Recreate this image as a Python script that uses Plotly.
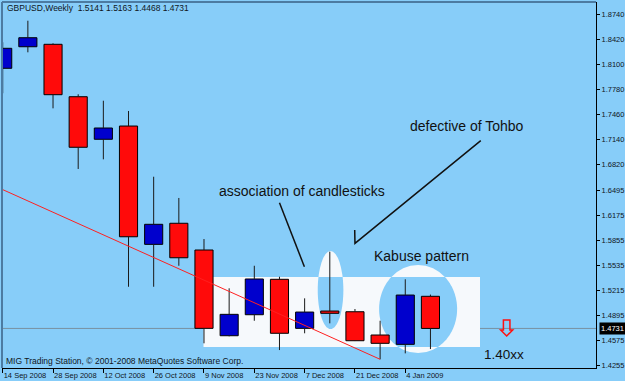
import numpy as np
import pandas as pd
import plotly.graph_objects as go

# ---------------- data ----------------
dates = ["2008-09-14", "2008-09-21", "2008-09-28", "2008-10-05", "2008-10-12", "2008-10-19",
         "2008-10-26", "2008-11-02", "2008-11-09", "2008-11-16", "2008-11-23", "2008-11-30",
         "2008-12-07", "2008-12-14", "2008-12-21", "2008-12-28", "2009-01-04", "2009-01-11"]
opens = [1.8051, 1.8326, 1.8357, 1.7688, 1.7145, 1.7314, 1.5804, 1.6073, 1.5732, 1.4638,
         1.4906, 1.5358, 1.4732, 1.4953, 1.4944, 1.4647, 1.4528, 1.5141]
highs = [1.8383, 1.8658, 1.8370, 1.7719, 1.7637, 1.7506, 1.6667, 1.6396, 1.5872, 1.5243,
         1.5531, 1.5391, 1.5115, 1.5710, 1.4979, 1.4829, 1.5358, 1.5163]
lows = [1.7732, 1.8255, 1.7540, 1.6766, 1.6889, 1.5263, 1.5263, 1.5531, 1.4541, 1.4630,
        1.4829, 1.4455, 1.4669, 1.4796, 1.4570, 1.4337, 1.4413, 1.4468]
closes = [1.8306, 1.8441, 1.7714, 1.7043, 1.7289, 1.5901, 1.6060, 1.5633, 1.4732, 1.4911,
          1.5362, 1.4669, 1.4940, 1.4924, 1.4574, 1.4541, 1.5157, 1.4731]
price_ticks = [1.8740, 1.8420, 1.8100, 1.7780, 1.7460, 1.7140, 1.6820, 1.6495, 1.6175,
               1.5855, 1.5535, 1.5215, 1.4895, 1.4575, 1.4255]
current_price = 1.4731
header_text = "GBPUSD,Weekly  1.5141 1.5163 1.4468 1.4731"
copyright_text = "MIG Trading Station, \u00a9 2001-2008 MetaQuotes Software Corp."

# ---------------- derived ----------------
xpos = list(range(len(dates)))
dts = pd.to_datetime(dates)
tick_idx = xpos[::2]
tick_text = [f"{dts[i].day} {dts[i].strftime('%b %Y')}" for i in tick_idx]

BG = "#87CDF9"
WHITE = "#F6F9FC"
UP = "#0000CD"
DOWN = "#FF0A0A"
FONT = "Liberation Sans, Arial, sans-serif"
SMALL = dict(family=FONT, size=7.5, color="#10161c")
TXT = dict(family=FONT, size=8.5, color="#10161c")
BIG = dict(family=FONT, size=14, color="#111111")

body_base = [min(o, c) for o, c in zip(opens, closes)]
body_len = [abs(c - o) for o, c in zip(opens, closes)]
body_col = [UP if c > o else DOWN for o, c in zip(opens, closes)]

wx, wy = [], []
for i, (o, h, l, c) in enumerate(zip(opens, highs, lows, closes)):
    top, bot = max(o, c), min(o, c)
    wx += [i, i, None, i, i, None]
    wy += [h, top, None, bot, l, None]

fig = go.Figure()
fig.add_trace(go.Bar(x=xpos, y=body_len, base=body_base, width=0.72,
                     marker=dict(color=body_col, line=dict(color="#000000", width=1)),
                     hoverinfo="skip", showlegend=False))
fig.add_trace(go.Scatter(x=wx, y=wy, mode="lines", line=dict(color="#1a1a1a", width=1),
                         hoverinfo="skip", showlegend=False, connectgaps=False))


def ellipse_pts(cx, cy, rx, ry, n=200):
    t = np.linspace(0, 2 * np.pi, n, endpoint=False)
    return list(zip(cx + rx * np.cos(t), cy + ry * np.sin(t)))


def clip(poly, inside, inter):
    out = []
    for k in range(len(poly)):
        cur, prev = poly[k], poly[k - 1]
        if inside(cur):
            if not inside(prev):
                out.append(inter(prev, cur))
            out.append(cur)
        elif inside(prev):
            out.append(inter(prev, cur))
    return out


def clip_rect(poly, x0, x1, y0, y1):
    def ix(xc):
        return lambda p, q: (xc, p[1] + (q[1] - p[1]) * (xc - p[0]) / (q[0] - p[0]))

    def iy(yc):
        return lambda p, q: (p[0] + (q[0] - p[0]) * (yc - p[1]) / (q[1] - p[1]), yc)

    poly = clip(poly, lambda p: p[0] >= x0, ix(x0))
    poly = clip(poly, lambda p: p[0] <= x1, ix(x1))
    poly = clip(poly, lambda p: p[1] >= y0, iy(y0))
    poly = clip(poly, lambda p: p[1] <= y1, iy(y1))
    return poly


def path_of(poly):
    return "M " + " L ".join(f"{x:.5f},{y:.6f}" for x, y in poly) + " Z"


shapes = []
# white highlight box
RX0, RX1, RY0, RY1 = 7.98, 18.97, 1.4495, 1.5388
shapes.append(dict(type="rect", xref="x", yref="y", x0=RX0, x1=RX1, y0=RY0, y1=RY1,
                   fillcolor=WHITE, line=dict(width=0), layer="below"))
# XOR ellipses
ellipses = [(13.03, 1.5221, 0.509, 0.0498), (16.51, 1.4979, 1.55, 0.0562)]
for cx, cy, rx, ry in ellipses:
    shapes.append(dict(type="circle", xref="x", yref="y", x0=cx - rx, x1=cx + rx,
                       y0=cy - ry, y1=cy + ry, fillcolor=WHITE, line=dict(width=0),
                       layer="below"))
    inner = clip_rect(ellipse_pts(cx, cy, rx, ry), RX0, RX1, RY0, RY1)
    shapes.append(dict(type="path", xref="x", yref="y", path=path_of(inner),
                       fillcolor=BG, line=dict(width=0), layer="below"))
# current price line
shapes.append(dict(type="line", xref="paper", yref="y", x0=0, x1=1,
                   y0=current_price, y1=current_price,
                   line=dict(color="#7890A2", width=1), layer="below"))
# trend line
shapes.append(dict(type="line", xref="x", yref="y", x0=-0.03, y0=1.6507, x1=15.0, y1=lows[15],
                   line=dict(color="#FF2020", width=1), layer="above"))
# pointer lines
shapes.append(dict(type="line", xref="x", yref="y", x0=11.0, y0=1.6335, x1=11.99, y1=1.5519,
                   line=dict(color="#111111", width=1.5), layer="above"))
shapes.append(dict(type="path", xref="x", yref="y",
                   path="M 19.0,1.7127 L 14.0,1.5817 L 13.99,1.5987",
                   line=dict(color="#111111", width=1.5), layer="above"))
# red arrow
shapes.append(dict(type="path", xref="x", yref="y",
                   path="M 19.90,1.4712 L 19.90,1.4838 L 20.16,1.4838 L 20.16,1.4712 "
                        "L 20.27,1.4712 L 20.03,1.4634 L 19.79,1.4712 Z",
                   line=dict(color="#FF1010", width=1.5), layer="above"))
# frame left / top
shapes.append(dict(type="line", xref="paper", yref="paper", x0=0, x1=0, y0=0, y1=1,
                   line=dict(color="#4C7BA2", width=2), layer="above"))
shapes.append(dict(type="line", xref="paper", yref="paper", x0=0, x1=1, y0=1, y1=1,
                   line=dict(color="#4C7BA2", width=2), layer="above"))

annotations = [
    dict(text=header_text, xref="paper", yref="paper", x=0.005, y=0.984,
         xanchor="left", yanchor="middle", showarrow=False, font=TXT),
    dict(text=copyright_text, xref="paper", yref="paper", x=0.0034, y=0.018,
         xanchor="left", yanchor="middle", showarrow=False, font=TXT),
    dict(text="association of candlesticks", x=11.9, y=1.6485, showarrow=False, font=BIG),
    dict(text="defective of Tohbo", x=18.47, y=1.7318, showarrow=False, font=BIG),
    dict(text="Kabuse pattern", x=16.63, y=1.5655, showarrow=False, font=BIG),
    dict(text="1.40xx", x=19.92, y=1.4404, showarrow=False,
         font=dict(family=FONT, size=13.5, color="#111111")),
    dict(text=f"{current_price:.4f}", xref="paper", yref="y", x=1, y=current_price,
         xanchor="left", yanchor="middle", xshift=3, showarrow=False,
         bgcolor="#000000", borderpad=1,
         font=dict(family=FONT, size=7.5, color="#FFFFFF")),
]

fig.update_layout(
    width=625, height=381,
    margin=dict(l=2, r=29, t=2, b=13, pad=0),
    paper_bgcolor=BG, plot_bgcolor=BG,
    shapes=shapes, annotations=annotations,
    showlegend=False, hovermode=False,
    xaxis=dict(range=[-0.028, 23.58],
               tickmode="array", tickvals=tick_idx, ticktext=tick_text, tickangle=0,
               ticks="outside", ticklen=4, tickcolor="#000000",
               ticklabelposition="outside right",
               showgrid=False, zeroline=False, showline=True, linecolor="#000000",
               linewidth=1, tickfont=SMALL, fixedrange=True),
    yaxis=dict(range=[1.4226, 1.8897], side="right", tickmode="array",
               tickvals=price_ticks, ticktext=[f"{v:.4f}" for v in price_ticks],
               ticks="outside", ticklen=3, tickcolor="#000000",
               showgrid=False, zeroline=False, showline=True, linecolor="#000000",
               linewidth=1, tickfont=SMALL, fixedrange=True),
)

fig.write_html("out.html")
